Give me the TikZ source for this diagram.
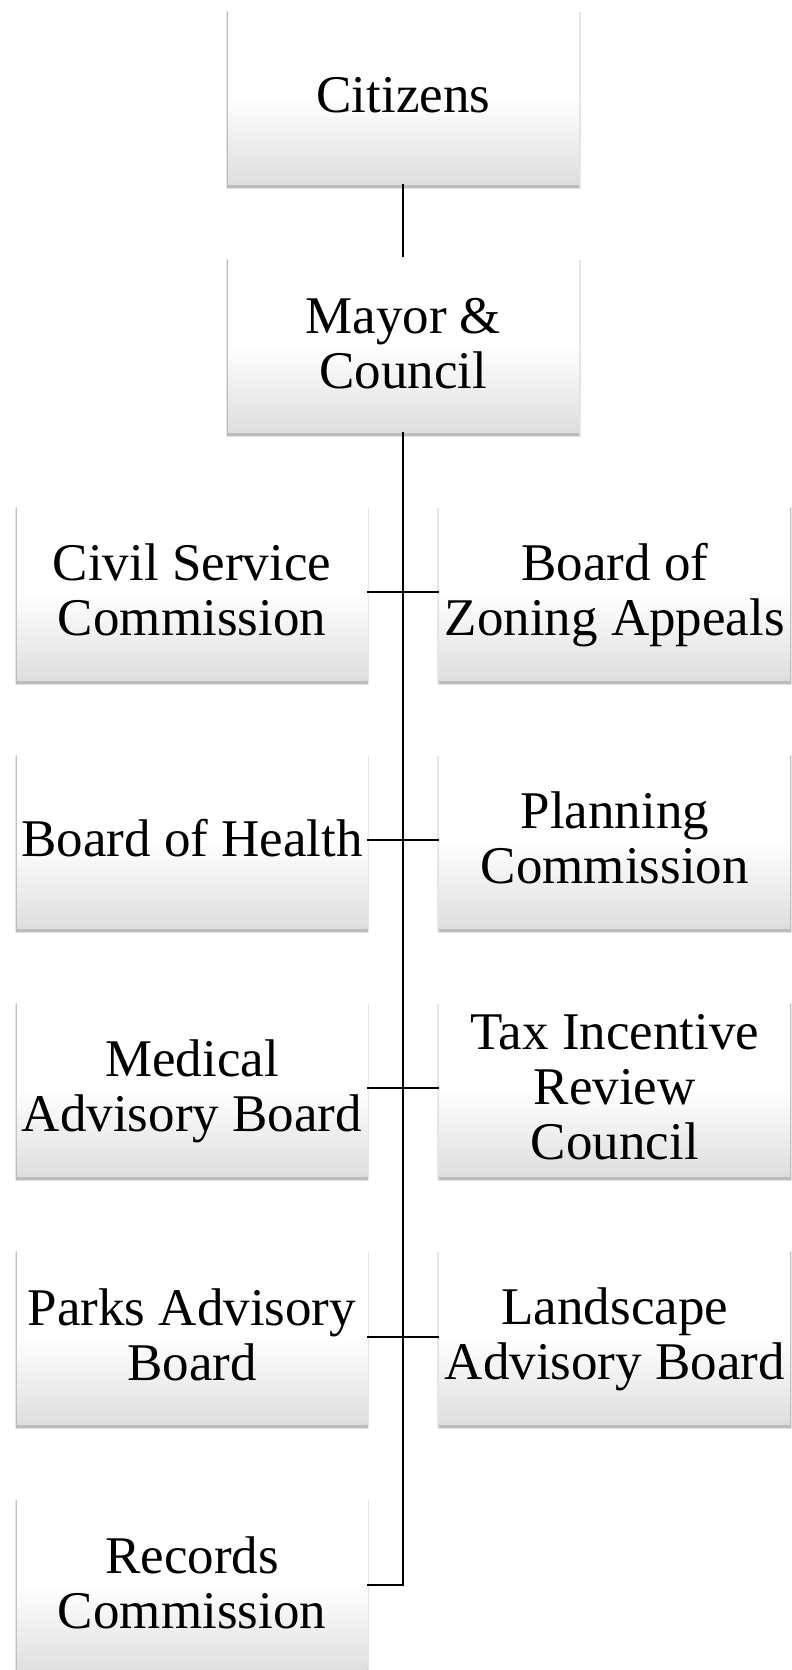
\documentclass[tikz,border=0pt]{standalone}
\usepackage{fontspec}
\setmainfont{Liberation Serif}
\usetikzlibrary{shadows}
\newcommand{\boxstrut}{\rule[-10pt]{0pt}{52pt}}
\newcommand{\bt}[1]{\boxstrut#1\boxstrut}
\begin{document}
\begin{tikzpicture}[x=1pt,y=-1pt,
  orgbox/.style={draw=none, minimum width=350.5pt, minimum height=175.5pt,
    inner sep=0pt, align=center, top color=white, bottom color=black!13, middle color=white,
    font=\fontsize{53}{55}\selectfont,
    general shadow={shadow xshift=0pt, shadow yshift=-4pt, shadow scale=1.012, opacity=0.10, fill=black},
    general shadow={shadow xshift=0pt, shadow yshift=-3pt, shadow scale=1.004, opacity=0.18, fill=black}},
  link/.style={draw=black, line width=2pt}]
\fill[white] (0,0) rectangle (792,1670);
\useasboundingbox (0,0) rectangle (792,1670);
\node[orgbox] (cit) at (403.3,96.4) {\bt{Citizens}};
\node[orgbox] (may) at (403.3,344.5) {\bt{Mayor \&\\Council}};
\node[orgbox] (l1) at (192,592.4) {\bt{Civil Service\\Commission}};
\node[orgbox] (r1) at (614.8,592.4) {\bt{Board of\\Zoning Appeals}};
\node[orgbox] (l2) at (192,840.4) {\bt{Board of Health}};
\node[orgbox] (r2) at (614.8,840.4) {\bt{Planning\\Commission}};
\node[orgbox] (l3) at (192,1088.4) {\bt{Medical\\Advisory Board}};
\node[orgbox] (r3) at (614.8,1088.4) {\bt{Tax Incentive\\Review\\Council}};
\node[orgbox] (l4) at (192,1336.5) {\bt{Parks Advisory\\Board}};
\node[orgbox] (r4) at (614.8,1336.5) {\bt{Landscape\\Advisory Board}};
\node[orgbox] (rec) at (192,1584.6) {\bt{Records\\Commission}};
\draw[link] (cit.south) -- (may.north);
\draw[link] (may.south) |- (rec.east);
\draw[link] (l1.east) -- (r1.west);
\draw[link] (l2.east) -- (r2.west);
\draw[link] (l3.east) -- (r3.west);
\draw[link] (l4.east) -- (r4.west);
\end{tikzpicture}
\end{document}
